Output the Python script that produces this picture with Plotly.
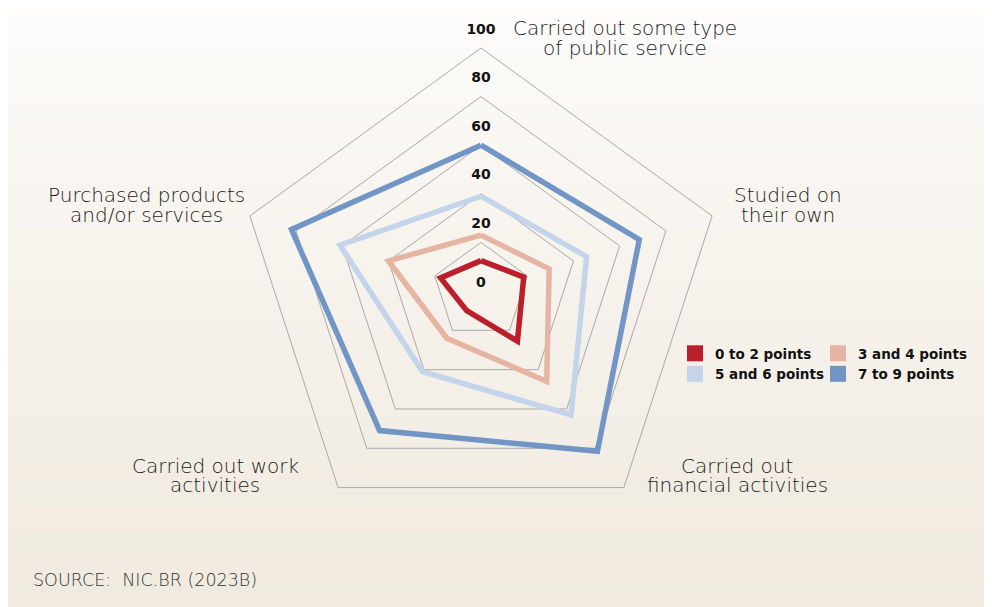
import plotly.graph_objects as go

# ---------------- data ----------------
categories = [
    "Carried out some type<br>of public service",
    "Studied on<br>their own",
    "Carried out<br>financial activities",
    "Carried out work<br>activities",
    "Purchased products<br>and/or services",
]
series_names = ["0 to 2 points", "3 and 4 points", "5 and 6 points", "7 to 9 points"]
vals_0_2 = [12.5, 18.5, 25.5, 10, 17.5]
vals_3_4 = [23, 29.5, 46, 24, 40]
vals_5_6 = [39, 45.7, 63, 41, 61]
vals_7_9 = [60, 68.5, 81.5, 71, 82]
radial_ticks = [0, 20, 40, 60, 80, 100]
source_text = "SOURCE:\u00a0 NIC.BR (2023B)"

series_values = [vals_0_2, vals_3_4, vals_5_6, vals_7_9]
colors = ["#bb1f2c", "#e6b4a3", "#c4d4ea", "#7196c5"]
legend_ids = ["legend", "legend2", "legend", "legend2"]

W, H = 992, 607
CX, CY, R = 473, 283, 243
FONT = "DejaVu Sans"

fig = go.Figure()

# series lines (closed polygons)
for name, vals, col in reversed(list(zip(series_names, series_values, colors))):
    fig.add_trace(go.Scatterpolar(
        r=vals + vals[:1], theta=categories + categories[:1],
        mode="lines", line=dict(color=col, width=5.5),
        name=name, showlegend=False, hoverinfo="skip",
    ))

# legend squares
for name, col, lg in zip(series_names, colors, legend_ids):
    fig.add_trace(go.Scatterpolar(
        r=[None], theta=[categories[0]], mode="markers",
        marker=dict(symbol="square", size=17, color=col),
        name=name, showlegend=True, legend=lg,
    ))

tick_font = dict(family=FONT, size=14, color="#111", weight="bold")
# radial tick labels along the top axis
fig.add_trace(go.Scatterpolar(
    r=radial_ticks[1:], theta=[categories[0]] * (len(radial_ticks) - 1),
    mode="markers+text", text=[str(t) for t in radial_ticks[1:]],
    textposition="top center", marker=dict(size=16, opacity=0),
    textfont=tick_font, cliponaxis=False, showlegend=False, hoverinfo="skip",
))

# background gradient bands
shapes = []
N = 80
top = (254, 253, 252)
bot = (240, 234, 223)
for i in range(N):
    t = (i + 0.5) / N
    tt = min(1.0, t ** 0.75)
    c = tuple(round(top[k] + (bot[k] - top[k]) * tt) for k in range(3))
    shapes.append(dict(
        type="rect", xref="paper", yref="paper",
        x0=0, x1=1, y0=max(0, 1 - (i + 1) / N - 0.002), y1=1 - i / N,
        fillcolor="rgb(%d,%d,%d)" % c, line=dict(width=0), layer="below",
    ))

# category label annotations (one per line to control spacing)
label_pos = [(617, 30), (780, 197), (729, 467), (207, 467), (138, 197)]
annotations = []
for cat, (lx, ly) in zip(categories, label_pos):
    lines = cat.split("<br>")
    n = len(lines)
    for j, ln in enumerate(lines):
        yy = ly + (j - (n - 1) / 2) * 19
        annotations.append(dict(
            text=ln, x=lx / W, y=1 - yy / H, xref="paper", yref="paper",
            xanchor="center", yanchor="middle", showarrow=False,
            font=dict(family=FONT, size=20, color="#1a1a1a", weight=200),
        ))

# label for the centre value (0) of the radial scale, at the polar centre
annotations.append(dict(
    text=str(radial_ticks[0]), x=CX / W, y=1 - (CY - 9) / H,
    xref="paper", yref="paper", xanchor="center", yanchor="middle",
    showarrow=False, font=tick_font,
))

annotations.append(dict(
    text=source_text, x=23 / W, y=1 - 572 / H, xref="paper", yref="paper",
    xanchor="left", yanchor="middle", showarrow=False,
    font=dict(family=FONT, size=17.5, color="#333", weight=200),
))

legend_common = dict(
    orientation="v", xanchor="left", yanchor="top",
    bgcolor="rgba(0,0,0,0)",
    font=dict(family=FONT, size=13.5, color="#111", weight="bold"),
    itemclick=False, itemdoubleclick=False,
)

fig.update_layout(
    width=W, height=H,
    margin=dict(l=0, r=0, t=0, b=0),
    paper_bgcolor="white",
    plot_bgcolor="rgba(0,0,0,0)",
    shapes=shapes,
    annotations=annotations,
    legend=dict(x=667 / W, y=1 - 330 / H, **legend_common),
    legend2=dict(x=810 / W, y=1 - 330 / H, **legend_common),
    polar=dict(
        domain=dict(x=[(CX - R) / W, (CX + R) / W], y=[1 - (CY + R) / H, 1 - (CY - R) / H]),
        bgcolor="rgba(0,0,0,0)",
        gridshape="linear",
        radialaxis=dict(
            range=[0, 100], tickvals=radial_ticks[1:], showticklabels=False,
            ticks="", showline=False, gridcolor="#a9a9a9", gridwidth=1, angle=90,
        ),
        angularaxis=dict(
            rotation=90, direction="clockwise", showticklabels=False, ticks="",
            showgrid=False, showline=True, linecolor="#a9a9a9", linewidth=1,
        ),
    ),
)

fig.write_html("out.html")
